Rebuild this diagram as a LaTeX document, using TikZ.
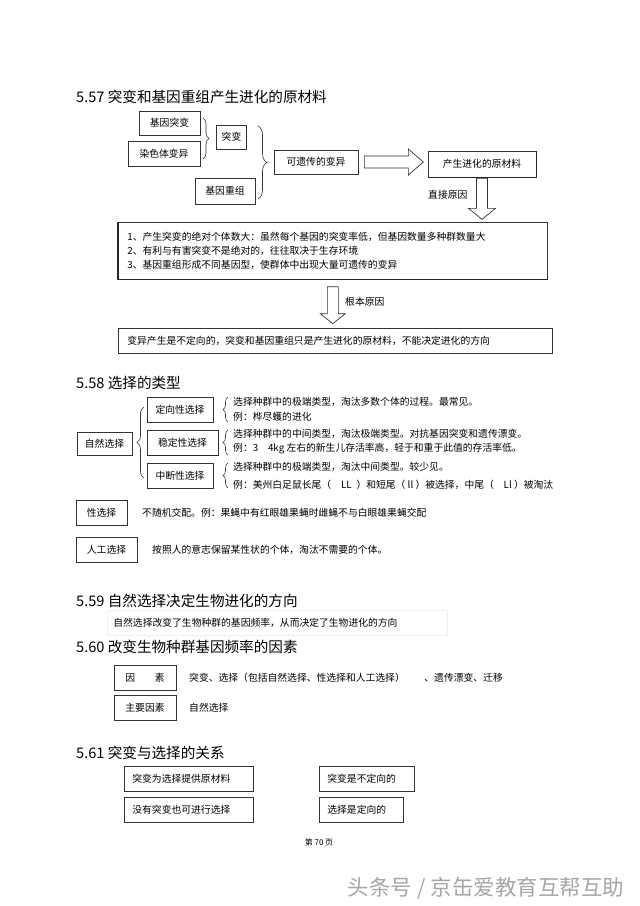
\documentclass[tikz,border=0pt]{standalone}
\usepackage{fontspec}
\setmainfont{Noto Sans CJK SC}
\usepackage{tikz}
\usetikzlibrary{decorations.pathreplacing}

\tikzset{
  box/.style={draw=black!80, line width=0.7pt, inner sep=0pt, font=\fontsize{9.8}{11}\selectfont},
  lbox/.style={box, anchor=west, align=left, inner xsep=8pt},
  txt/.style={anchor=west, inner sep=0pt, font=\fontsize{9.8}{11}\selectfont},
  head/.style={anchor=west, inner sep=0pt, font=\fontsize{14.6}{16}\selectfont},
  brc/.style={decorate, decoration={brace, amplitude=#1}, draw=black!80, line width=0.6pt},
  hollow/.style={draw=black!80, line width=0.7pt, line join=miter},
  heavy/.style={draw=black!85, line width=1.5pt}
}

\begin{document}
\begin{tikzpicture}[x=1pt,y=-1pt]
    \useasboundingbox (0,0) rectangle (640,906);

    % 5.57
    \node[head] (h57) at (76,97) {5.57 突变和基因重组产生进化的原材料};
    \node[box, minimum width=61, minimum height=24] (jytb) at (169.5,123) {基因突变};
    \node[box, minimum width=72, minimum height=25] (rst) at (164,153.5) {染色体变异};
    \node[box, minimum width=30, minimum height=24] (tb) at (231.5,137) {突变};
    \node[box, minimum width=60, minimum height=26] (jycz) at (225,191) {基因重组};
    \node[box, minimum width=84, minimum height=24] (kyc) at (316,162) {可遗传的变异};
    \node[box, minimum width=108, minimum height=26] (ycl) at (482,164) {产生进化的原材料};
    \draw[heavy] (ycl.south west) -- (ycl.south east) -- (ycl.north east);
    \draw[brc=6] (203,118) -- (203,159);
    \draw[brc=9] (258,126) -- (258,199);
    \draw[hollow] ([xshift=6]kyc.east) ++(0,-6) -- ++(44,0) -- ++(0,-7) -- ++(15,13)
      -- ++(-15,13) -- ++(0,-7) -- ++(-44,0) -- cycle;
    \draw[hollow] (ycl.south) ++(-5.5,1) -- ++(11,0) -- ++(0,30) -- ++(8,0) -- ++(-13.5,11)
      -- ++(-13.5,-11) -- ++(8,0) -- cycle;
    \node[txt] (zjyy) at (428,195) {直接原因};

    \node[box, anchor=north west, minimum width=429, minimum height=57, text width=411,
      align=left, font=\fontsize{9.8}{14}\selectfont] (yy) at (118,222)
      {1、产生突变的绝对个体数大：虽然每个基因的突变率低，但基因数量多种群数量大\\
       2、有利与有害突变不是绝对的，往往取决于生存环境\\
       3、基因重组形成不同基因型，使群体中出现大量可遗传的变异};
    \draw[heavy] (yy.north west) -- (yy.south west) -- (yy.south east);
    \draw[hollow] (yy.south) ++(-5.5,7) -- ++(11,0) -- ++(0,27) -- ++(7,0) -- ++(-12.5,10)
      -- ++(-12.5,-10) -- ++(7,0) -- cycle;
    \node[txt] (gbyy) at (345,302) {根本原因};
    \node[lbox, minimum width=434, minimum height=25, text width=416, inner xsep=9pt] (fx) at (118,340.5)
      {变异产生是不定向的，突变和基因重组只是产生进化的原材料，不能决定进化的方向};

    % 5.58
    \node[head] (h58) at (76,383) {5.58 选择的类型};
    \node[box, minimum width=55, minimum height=23] (zrxz) at (104.5,443.5) {自然选择};
    \node[box, minimum width=66, minimum height=25] (dx) at (180,409.5) {定向性选择};
    \node[box, minimum width=71, minimum height=25] (wd) at (182.5,442.5) {稳定性选择};
    \node[box, minimum width=66, minimum height=25] (zd) at (180,475.5) {中断性选择};
    \draw[heavy] (wd.south west) -- (wd.south east);
    \draw[brc=7] (144,478) -- (144,407);
    \draw[brc=5] (228,422) -- (228,397);
    \draw[brc=5] (228,455) -- (228,430);
    \draw[brc=5] (228,488) -- (228,463);
    \node[txt] (dx1) at (233,402) {选择种群中的极端类型，淘汰多数个体的过程。最常见。};
    \node[txt] (dx2) at (233,417) {例：桦尽蠖的进化};
    \node[txt] (wd1) at (233,434) {选择种群中的中间类型，淘汰极端类型。对抗基因突变和遗传漂变。};
    \node[txt] (wd2) at (233,449) {例：3\quad 4kg 左右的新生儿存活率高，轻于和重于此值的存活率低。};
    \node[txt] (zd1) at (233,467) {选择种群中的极端类型，淘汰中间类型。较少见。};
    \node[txt] (zd2) at (233,485) {例：美州白足鼠长尾（\quad LL\enspace）和短尾（ ll ）被选择，中尾（\quad Ll ）被淘汰};

    \node[box, minimum width=51, minimum height=25] (xxz) at (101.5,512.5) {性选择};
    \node[txt] (xxz1) at (142,513) {不随机交配。例：果蝇中有红眼雄果蝇时雌蝇不与白眼雄果蝇交配};
    \node[box, minimum width=61, minimum height=25] (rgxz) at (106.5,549.5) {人工选择};
    \node[txt] (rgxz1) at (152,550) {按照人的意志保留某性状的个体，淘汰不需要的个体。};

    % 5.59
    \node[head] (h59) at (76,601) {5.59 自然选择决定生物进化的方向};
    \node[lbox, draw=black!6, minimum width=340, minimum height=25, text width=328, inner xsep=6pt] (fxx) at (107,622.5)
      {自然选择改变了生物种群的基因频率，从而决定了生物进化的方向};

    % 5.60
    \node[head] (h60) at (76,647) {5.60 改变生物种群基因频率的因素};
    \node[box, minimum width=62, minimum height=25] (ys) at (145,677.5) {因\qquad 素};
    \node[txt] (ys1) at (189,678) {突变、选择（包括自然选择、性选择和人工选择）\qquad 、遗传漂变、迁移};
    \node[box, minimum width=62, minimum height=25] (zyys) at (145,707.5) {主要因素};
    \node[txt] (zyys1) at (189,708) {自然选择};

    % 5.61
    \node[head] (h61) at (76,753) {5.61 突变与选择的关系};
    \node[lbox, minimum width=129, minimum height=25, text width=113] (tb1) at (124,778.5) {突变为选择提供原材料};
    \node[lbox, minimum width=129, minimum height=25, text width=113] (tb2) at (124,810) {没有突变也可进行选择};
    \node[lbox, minimum width=95, minimum height=25, text width=79] (tb3) at (319,778.5) {突变是不定向的};
    \node[lbox, minimum width=84, minimum height=25, text width=68] (xz) at (319,810) {选择是定向的};

    \node[font=\fontsize{8}{9}\selectfont, inner sep=0pt] (ym) at (319,842) {第 70 页};
    \node[font=\fontsize{21.5}{23}\selectfont, text=black!35, inner sep=0pt] (sy) at (486,888) {头条号 / 京缶爱教育互帮互助};
\end{tikzpicture}
\end{document}
